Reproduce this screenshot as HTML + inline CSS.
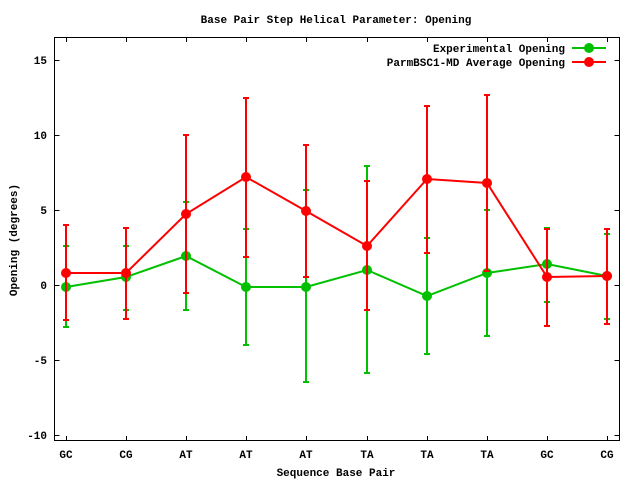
<!DOCTYPE html>
<html><head><style>body{margin:0;background:#fff}svg{display:block}text{font-family:"Liberation Mono",monospace;font-weight:bold;font-size:11px;fill:#000}</style></head><body>
<svg width="640" height="480" xmlns="http://www.w3.org/2000/svg">
<rect width="640" height="480" fill="#fff"/>
<text x="336" y="23" text-anchor="middle">Base Pair Step Helical Parameter: Opening</text>
<g stroke="#000" stroke-width="1">
<rect x="54.5" y="37.5" width="565" height="403" fill="none"/>
<path d="M54.5 60.5h5M619.5 60.5h-5M54.5 135.5h5M619.5 135.5h-5M54.5 210.5h5M619.5 210.5h-5M54.5 285.5h5M619.5 285.5h-5M54.5 360.5h5M619.5 360.5h-5M54.5 435.5h5M619.5 435.5h-5"/>
<path d="M66.5 440v-4M66.5 38v4M126.5 440v-4M126.5 38v4M186.5 440v-4M186.5 38v4M246.5 440v-4M246.5 38v4M306.5 440v-4M306.5 38v4M367.5 440v-4M367.5 38v4M427.5 440v-4M427.5 38v4M487.5 440v-4M487.5 38v4M547.5 440v-4M547.5 38v4M607.5 440v-4M607.5 38v4"/>
</g>
<g text-anchor="end">
<text x="47" y="64">15</text><text x="47" y="139">10</text><text x="47" y="214">5</text><text x="47" y="289">0</text><text x="47" y="364">-5</text><text x="47" y="439">-10</text>
</g>
<g text-anchor="middle">
<text x="66" y="458">GC</text><text x="126" y="458">CG</text><text x="186" y="458">AT</text><text x="246" y="458">AT</text><text x="306" y="458">AT</text><text x="367" y="458">TA</text><text x="427" y="458">TA</text><text x="487" y="458">TA</text><text x="547" y="458">GC</text><text x="607" y="458">CG</text>
<text x="336" y="476">Sequence Base Pair</text>
<text transform="translate(17,240) rotate(-90)">Opening (degrees)</text>
</g>
<text x="565" y="52" text-anchor="end">Experimental Opening</text>
<text x="565" y="66" text-anchor="end">ParmBSC1-MD Average Opening</text>
<g stroke="#00c000" stroke-width="2" fill="#00c000">
<path d="M572 48h34"/><circle cx="589" cy="48" r="5" stroke="none"/>
<path fill="none" d="M66 246V327M63 246h6M63 327h6M126 246V310M123 246h6M123 310h6M186 202V310M183 202h6M183 310h6M246 229V345M243 229h6M243 345h6M306 190V382M303 190h6M303 382h6M367 166V373M364 166h6M364 373h6M427 238V354M424 238h6M424 354h6M487 210V336M484 210h6M484 336h6M547 228V302M544 228h6M544 302h6M607 234V319M604 234h6M604 319h6"/>
<polyline fill="none" points="66,287 126,277 186,256 246,287 306,287 367,270 427,296 487,273 547,264 607,276"/>
<g stroke="none"><circle cx="66" cy="287" r="5"/><circle cx="126" cy="277" r="5"/><circle cx="186" cy="256" r="5"/><circle cx="246" cy="287" r="5"/><circle cx="306" cy="287" r="5"/><circle cx="367" cy="270" r="5"/><circle cx="427" cy="296" r="5"/><circle cx="487" cy="273" r="5"/><circle cx="547" cy="264" r="5"/><circle cx="607" cy="276" r="5"/></g>
</g>
<g stroke="#ff0000" stroke-width="2" fill="#ff0000">
<path d="M572 62h34"/><circle cx="589" cy="62" r="5" stroke="none"/>
<path fill="none" d="M66 225V320M63 225h6M63 320h6M126 228V319M123 228h6M123 319h6M186 135V293M183 135h6M183 293h6M246 98V257M243 98h6M243 257h6M306 145V277M303 145h6M303 277h6M367 181V310M364 181h6M364 310h6M427 106V253M424 106h6M424 253h6M487 95V271M484 95h6M484 271h6M547 229V326M544 229h6M544 326h6M607 229V324M604 229h6M604 324h6"/>
<polyline fill="none" points="66,273 126,273 186,214 246,177 306,211 367,246 427,179 487,183 547,277 607,276"/>
<g stroke="none"><circle cx="66" cy="273" r="5"/><circle cx="126" cy="273" r="5"/><circle cx="186" cy="214" r="5"/><circle cx="246" cy="177" r="5"/><circle cx="306" cy="211" r="5"/><circle cx="367" cy="246" r="5"/><circle cx="427" cy="179" r="5"/><circle cx="487" cy="183" r="5"/><circle cx="547" cy="277" r="5"/><circle cx="607" cy="276" r="5"/></g>
</g>
</svg>
</body></html>
